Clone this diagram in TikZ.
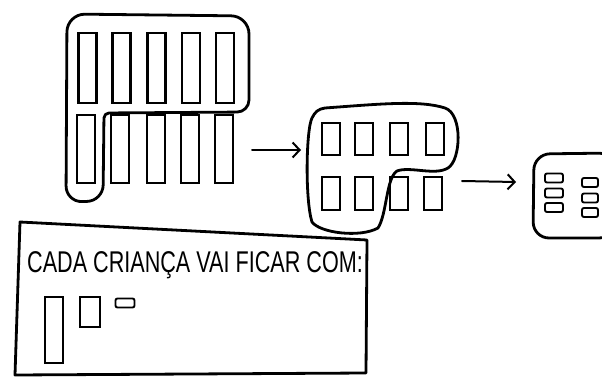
\documentclass[tikz,border=0pt]{standalone}
\usepackage{fontspec}
\setmainfont{Liberation Sans}
\usetikzlibrary{arrows.meta}
\tikzset{
  outline/.style={line width=2.8pt, line join=round, line cap=round},
  cell/.style={draw, line width=2.2pt, inner sep=0pt, outer sep=0pt},
  minicell/.style={cell, rounded corners=2pt, line width=1.9pt},
  handarrow/.style={line width=2pt, line cap=round, -{Straight Barb[length=7pt,width=15pt,line width=2pt]}}
}
\begin{document}
\begin{tikzpicture}[x=1pt,y=-1pt]
\useasboundingbox (0,0) rectangle (602,377);
\fill[white] (0,0) rectangle (602,377);
\begin{scope}
\clip (0,0) rectangle (602,377);
% blob 1
\draw[outline, rounded corners=18pt] (67,14) -- (249,16) [rounded corners=12pt] -- (249,112) [rounded corners=5pt] -- (104,113) [rounded corners=16pt] -- (103,201) -- (66,202) [rounded corners=18pt] -- cycle;
\foreach \n/\x in {1/87.5,2/121.5,3/156.5,4/191,5/225}
  \node[cell, minimum width=18pt, minimum height=70pt] (t\n) at (\x,68) {};
\foreach \n/\x in {1/86,2/120,3/156,4/190,5/224}
  \node[cell, minimum width=18pt, minimum height=68pt] (b\n) at (\x,149) {};
% blob 2
\draw[outline] (325,108) .. controls (380,104) and (420,100) .. (445,108)
  .. controls (463,114) and (461,160) .. (448,168)
  .. controls (435,176) and (410,166) .. (397,171)
  .. controls (386,178) and (387,214) .. (378,228)
  .. controls (360,238) and (320,233) .. (312,222)
  .. controls (305,200) and (306,130) .. (312,118)
  .. controls (315,112) and (318,109) .. (325,108);
\foreach \n/\x in {1/331,2/364,3/399,4/435}
  \node[cell, minimum width=18pt, minimum height=32pt] (u\n) at (\x,139) {};
\foreach \n/\x in {1/331,2/364,3/399,4/433}
  \node[cell, minimum width=18pt, minimum height=33pt] (v\n) at (\x,193.5) {};
% blob 3
\draw[outline, rounded corners=16pt] (534,154) -- (615,153) -- (615,238) -- (533,238) -- cycle;
\foreach \n/\y in {1/178,2/193,3/207.5}
  \node[minicell, minimum width=18pt, minimum height=9pt] (p\n) at (554,\y) {};
\foreach \n/\y in {1/182.5,2/198,3/212.5}
  \node[minicell, minimum width=16pt, minimum height=9pt] (q\n) at (590,\y) {};
\end{scope}
% connector anchors
\coordinate (o1) at (252,150);
\coordinate (i2) at (301,150);
\coordinate (o2) at (462,181);
\coordinate (i3) at (516,182);
\draw[handarrow] (o1) -- (i2);
\draw[handarrow] (o2) -- (i3);
% text box
\draw[outline] (20,222) -- (367,240) -- (366,373) -- (15,375) -- cycle;
\node[anchor=base west, inner sep=0pt, font=\fontsize{30}{30}\selectfont] (caption) at (27,272)
  {\scalebox{0.72}[1]{CADA CRIANÇA VAI FICAR COM:}};
\node[cell, minimum width=18pt, minimum height=66pt] (k1) at (54,330) {};
\node[cell, minimum width=20pt, minimum height=30pt] (k2) at (90,312) {};
\node[minicell, minimum width=19pt, minimum height=9pt] (k3) at (125,303) {};
\end{tikzpicture}
\end{document}
